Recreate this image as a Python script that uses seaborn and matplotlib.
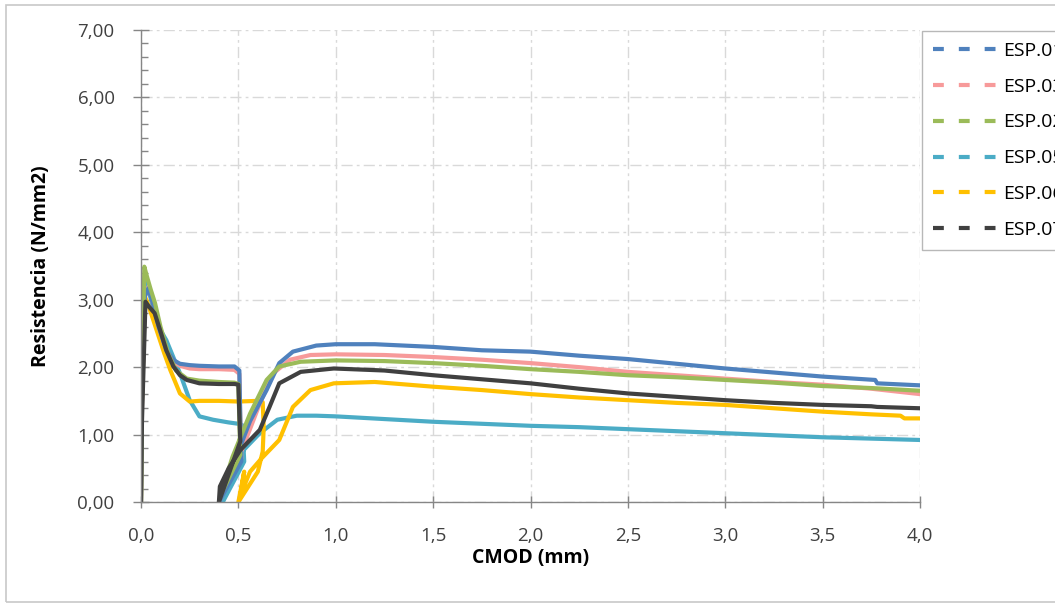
import numpy as np
import pandas as pd
import matplotlib
matplotlib.use("Agg")
import matplotlib.pyplot as plt
import matplotlib.ticker as mticker
from matplotlib.lines import Line2D
from matplotlib.patches import Rectangle
import seaborn as sns

# ---------------- data ----------------
series_names = ["ESP.01", "ESP.03", "ESP.02", "ESP.05", "ESP.06", "ESP.07"]
series_colors = ["#4F81BD", "#F79A9A", "#9BBB59", "#4BACC6", "#FFC000", "#404040"]

esp01_x = [0.0, 0.005, 0.02, 0.038, 0.06, 0.09, 0.13, 0.17, 0.20, 0.25, 0.30, 0.40, 0.48, 0.505, 0.51, 0.515,
           0.40, 0.45, 0.50, 0.56, 0.645, 0.71, 0.78, 0.90, 1.0, 1.2, 1.5, 1.75, 2.0, 2.25, 2.5, 2.75, 3.0,
           3.25, 3.5, 3.77, 3.78, 4.0]
esp01_y = [0.0, 1.5, 3.05, 3.17, 2.95, 2.60, 2.25, 2.10, 2.05, 2.03, 2.02, 2.01, 2.01, 1.95, 1.20, 0.60,
           0.0, 0.35, 0.75, 1.20, 1.66, 2.06, 2.23, 2.32, 2.34, 2.34, 2.30, 2.25, 2.23, 2.17, 2.12, 2.05, 1.98,
           1.92, 1.86, 1.81, 1.76, 1.73]

esp03_x = [0.0, 0.005, 0.02, 0.04, 0.06, 0.09, 0.13, 0.17, 0.20, 0.25, 0.30, 0.40, 0.48, 0.505, 0.51, 0.515,
           0.40, 0.45, 0.525, 0.61, 0.68, 0.765, 0.87, 1.0, 1.25, 1.5, 1.75, 2.0, 2.25, 2.5, 2.75, 3.0, 3.25,
           3.5, 3.75, 4.0]
esp03_y = [0.0, 1.5, 3.05, 3.20, 2.95, 2.60, 2.25, 2.08, 2.02, 1.98, 1.97, 1.97, 1.96, 1.90, 1.20, 0.65,
           0.0, 0.35, 0.82, 1.46, 1.91, 2.11, 2.18, 2.19, 2.18, 2.15, 2.11, 2.06, 2.00, 1.93, 1.88, 1.83, 1.78,
           1.74, 1.68, 1.60]

esp02_x = [0.0, 0.005, 0.017, 0.03, 0.05, 0.072, 0.10, 0.14, 0.18, 0.235, 0.30, 0.40, 0.48, 0.50, 0.505, 0.51,
           0.405, 0.47, 0.56, 0.645, 0.71, 0.82, 1.0, 1.25, 1.5, 1.75, 2.0, 2.25, 2.5, 2.75, 3.0, 3.25, 3.5,
           3.75, 4.0]
esp02_y = [0.0, 1.6, 3.49, 3.35, 3.15, 2.95, 2.60, 2.20, 1.95, 1.83, 1.80, 1.78, 1.77, 1.75, 1.20, 0.70,
           0.08, 0.67, 1.31, 1.81, 2.01, 2.08, 2.10, 2.09, 2.06, 2.02, 1.97, 1.93, 1.88, 1.85, 1.81, 1.77, 1.72,
           1.69, 1.65]

esp05_x = [0.0, 0.005, 0.02, 0.035, 0.08, 0.13, 0.20, 0.25, 0.30, 0.37, 0.45, 0.50, 0.52, 0.525, 0.53,
           0.42, 0.46, 0.51, 0.61, 0.70, 0.80, 0.90, 1.0, 1.25, 1.5, 1.75, 2.0, 2.25, 2.5, 2.75, 3.0, 3.25,
           3.5, 3.75, 4.0]
esp05_y = [0.0, 1.8, 3.32, 3.20, 2.65, 2.40, 1.91, 1.51, 1.27, 1.22, 1.18, 1.16, 1.14, 0.90, 0.60,
           0.0, 0.35, 0.72, 1.02, 1.22, 1.28, 1.28, 1.27, 1.23, 1.19, 1.16, 1.13, 1.11, 1.08, 1.05, 1.02, 0.99,
           0.96, 0.94, 0.92]

esp06_x = [0.0, 0.005, 0.02, 0.04, 0.08, 0.12, 0.15, 0.20, 0.25, 0.30, 0.40, 0.50, 0.60, 0.625, 0.63, 0.625,
           0.60, 0.50, 0.53, 0.51, 0.56, 0.62, 0.67, 0.71, 0.78, 0.87, 0.99, 1.2, 1.5, 1.75, 2.0, 2.25, 2.5,
           2.75, 3.0, 3.25, 3.5, 3.75, 3.9, 3.92, 4.0]
esp06_y = [0.0, 1.5, 3.05, 2.90, 2.55, 2.20, 1.96, 1.61, 1.49, 1.50, 1.50, 1.49, 1.50, 1.48, 1.10, 0.75,
           0.45, 0.0, 0.45, 0.10, 0.45, 0.65, 0.80, 0.92, 1.41, 1.66, 1.76, 1.78, 1.71, 1.66, 1.60, 1.55, 1.51,
           1.47, 1.44, 1.39, 1.34, 1.30, 1.28, 1.24, 1.24]

esp07_x = [0.0, 0.005, 0.023, 0.04, 0.07, 0.098, 0.13, 0.166, 0.20, 0.235, 0.30, 0.40, 0.48, 0.50, 0.505, 0.51,
           0.40, 0.405, 0.45, 0.51, 0.61, 0.66, 0.71, 0.82, 0.99, 1.25, 1.5, 1.75, 2.0, 2.25, 2.5, 2.75, 3.0,
           3.25, 3.5, 3.75, 3.78, 4.0]
esp07_y = [0.0, 1.2, 2.97, 2.90, 2.80, 2.55, 2.25, 2.01, 1.88, 1.81, 1.76, 1.75, 1.75, 1.74, 1.30, 0.90,
           0.0, 0.23, 0.50, 0.77, 1.07, 1.41, 1.76, 1.93, 1.98, 1.95, 1.88, 1.82, 1.76, 1.68, 1.61, 1.56, 1.51,
           1.47, 1.44, 1.42, 1.41, 1.39]

x_ticks = [0.0, 0.5, 1.0, 1.5, 2.0, 2.5, 3.0, 3.5, 4.0]
y_ticks = [0, 1, 2, 3, 4, 5, 6, 7]

series_data = {
    "ESP.01": (esp01_x, esp01_y),
    "ESP.03": (esp03_x, esp03_y),
    "ESP.02": (esp02_x, esp02_y),
    "ESP.05": (esp05_x, esp05_y),
    "ESP.06": (esp06_x, esp06_y),
    "ESP.07": (esp07_x, esp07_y),
}

rows = []
for name in series_names:
    xs, ys = series_data[name]
    for i, (xv, yv) in enumerate(zip(xs, ys)):
        rows.append({"serie": name, "i": i, "CMOD": xv, "R": yv})
df = pd.DataFrame(rows)

# ---------------- style ----------------
sns.set_theme(style="white")
plt.rcParams["font.family"] = ["Open Sans", "DejaVu Sans"]

fig = plt.figure(figsize=(10.55, 6.05), dpi=100)
ax = fig.add_axes([141 / 1055, 103 / 605, (920 - 141) / 1055, (502 - 30) / 605])

palette = dict(zip(series_names, series_colors))
draw_order = ["ESP.05", "ESP.06", "ESP.03", "ESP.01", "ESP.02", "ESP.07"]
for name in draw_order:
    sub = df[df["serie"] == name]
    sns.lineplot(data=sub, x="CMOD", y="R", sort=False, estimator=None, color=palette[name],
                 lw=3.0, ax=ax, legend=False, solid_capstyle="round", solid_joinstyle="round")

ax.set_xlim(0, 4.0)
ax.set_ylim(0, 7.0)
ax.set_xticks(x_ticks)
ax.set_yticks(y_ticks)
ax.yaxis.set_minor_locator(mticker.MultipleLocator(0.2))
ax.xaxis.set_major_formatter(mticker.FuncFormatter(lambda v, p: f"{v:.1f}".replace(".", ",")))
ax.yaxis.set_major_formatter(mticker.FuncFormatter(lambda v, p: f"{v:.2f}".replace(".", ",")))

ax.grid(True, which="major", color="#D9D9D9", linestyle=(0, (8, 3, 2, 3)), lw=1.0)
ax.set_axisbelow(True)

for s in ["top", "right"]:
    ax.spines[s].set_visible(False)
for s in ["left", "bottom"]:
    ax.spines[s].set_color("#868686")
    ax.spines[s].set_linewidth(1.0)

ax.tick_params(axis="y", which="major", direction="inout", length=12, width=1, color="#868686",
               labelsize=13.5, labelcolor="#404040", pad=13, left=True)
ax.tick_params(axis="y", which="minor", direction="in", length=5, width=1, color="#868686", left=True)
ax.tick_params(axis="x", which="major", direction="inout", length=8, width=1, color="#868686",
               labelsize=13.5, labelcolor="#404040", pad=14, bottom=True)

ax.set_xlabel("CMOD (mm)", fontsize=14, fontweight="bold", color="#000000", labelpad=2)
ax.set_ylabel("Resistencia (N/mm2)", fontsize=14, fontweight="bold", color="#000000", labelpad=19)

# legend with dashed handles
handles = [Line2D([0], [0], color=c, lw=3, linestyle=(0, (2.6, 3.6))) for c in series_colors]
leg = fig.legend(handles, series_names, loc="upper left", bbox_to_anchor=(922 / 1055, 1 - 31 / 605),
                 frameon=True, fancybox=False, fontsize=14, handlelength=3.25, handletextpad=0.36,
                 labelspacing=0.92, borderpad=0.55, borderaxespad=0)
leg.get_frame().set_edgecolor("#A6A6A6")
leg.get_frame().set_linewidth(1.0)
for t in leg.get_texts():
    t.set_color("#000000")

# outer chart border
fig.patches.append(Rectangle((6 / 1055, 3 / 605), 1.2, 1 - 8 / 605, transform=fig.transFigure,
                             fill=False, edgecolor="#C8C8C8", lw=1.2))

fig.savefig("out.png", dpi=100, facecolor="white")
